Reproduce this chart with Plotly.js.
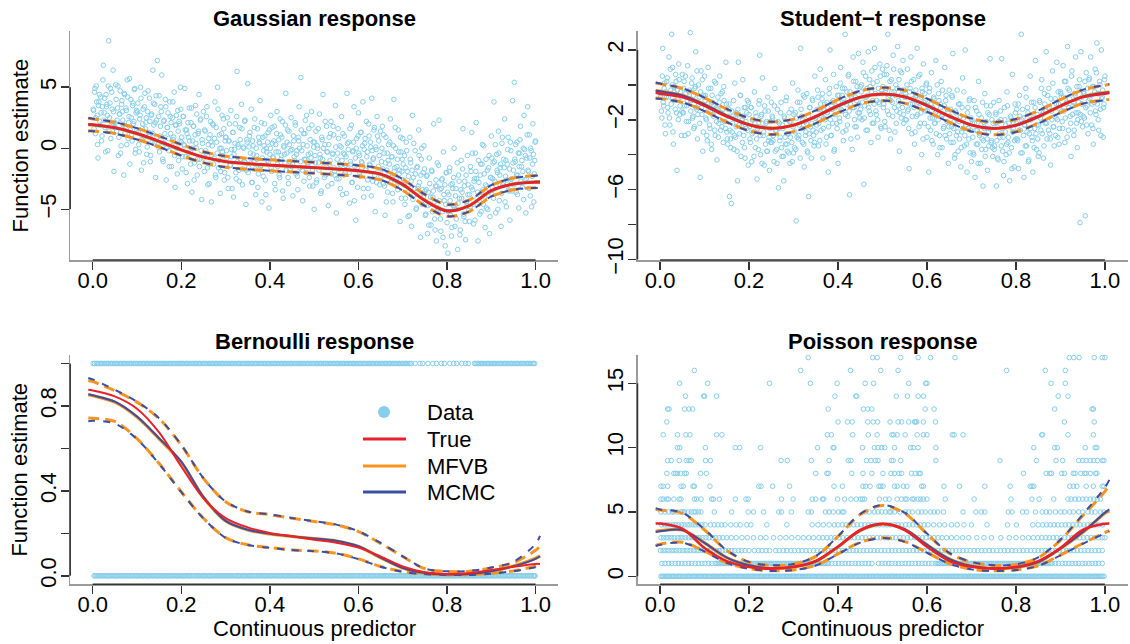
<!DOCTYPE html>
<html><head><meta charset="utf-8">
<script src="https://cdn.plot.ly/plotly-3.0.1.min.js"></script>
<style>html,body{margin:0;padding:0;background:#fff}#chart{width:1130px;height:644px}</style>
</head><body><div id="chart"></div>
<script>
// ---------- curve grid (continuous predictor) ----------
const curveX = [-0.01,0,0.05,0.1,0.15,0.2,0.25,0.3,0.35,0.4,0.45,0.5,0.55,0.6,0.65,0.7,0.75,0.8,0.85,0.9,0.95,1.0,1.01];

// ---------- Gaussian response ----------
const gaussTrue   = [1.97,1.95,1.7,1.22,0.58,-0.12,-0.72,-1.08,-1.25,-1.37,-1.48,-1.58,-1.7,-1.83,-2.1,-2.95,-4.3,-5.17,-4.7,-3.45,-2.95,-2.81,-2.81];
const gaussMfvb   = [1.93,1.9,1.66,1.18,0.55,-0.15,-0.74,-1.1,-1.28,-1.4,-1.5,-1.6,-1.71,-1.86,-2.14,-3.0,-4.25,-5.1,-4.72,-3.5,-2.92,-2.74,-2.73];
const gaussMfvbLo = [1.43,1.42,1.21,0.73,0.1,-0.6,-1.19,-1.55,-1.73,-1.85,-1.95,-2.05,-2.16,-2.31,-2.59,-3.46,-4.72,-5.58,-5.19,-3.96,-3.4,-3.24,-3.25];
const gaussMfvbHi = [2.45,2.4,2.12,1.63,1.0,0.3,-0.29,-0.65,-0.83,-0.95,-1.05,-1.15,-1.26,-1.41,-1.69,-2.54,-3.78,-4.62,-4.25,-3.04,-2.44,-2.24,-2.21];
const gaussMcmc   = [1.94,1.91,1.66,1.19,0.55,-0.15,-0.73,-1.1,-1.27,-1.4,-1.5,-1.6,-1.71,-1.86,-2.13,-3.0,-4.26,-5.1,-4.71,-3.49,-2.92,-2.75,-2.74];
const gaussMcmcLo = [1.4,1.4,1.2,0.72,0.1,-0.6,-1.18,-1.55,-1.72,-1.85,-1.95,-2.05,-2.16,-2.31,-2.58,-3.46,-4.73,-5.58,-5.18,-3.95,-3.39,-3.25,-3.27];
const gaussMcmcHi = [2.47,2.42,2.13,1.64,1.0,0.31,-0.28,-0.65,-0.82,-0.95,-1.05,-1.15,-1.26,-1.41,-1.68,-2.54,-3.79,-4.62,-4.24,-3.03,-2.44,-2.25,-2.22];

// ---------- Student-t response ----------
const studTrue   = [-0.45,-0.5,-0.7,-1.2,-1.82,-2.3,-2.5,-2.3,-1.8,-1.18,-0.7,-0.52,-0.7,-1.2,-1.8,-2.3,-2.5,-2.3,-1.8,-1.2,-0.7,-0.5,-0.46];
const studMfvb   = [-0.32,-0.36,-0.6,-1.12,-1.76,-2.27,-2.48,-2.32,-1.83,-1.22,-0.72,-0.53,-0.68,-1.16,-1.78,-2.3,-2.5,-2.33,-1.84,-1.22,-0.68,-0.44,-0.41];
const studMfvbHi = [0.11,0.06,-0.2,-0.74,-1.39,-1.91,-2.12,-1.96,-1.47,-0.85,-0.35,-0.16,-0.31,-0.79,-1.42,-1.94,-2.14,-1.97,-1.48,-0.85,-0.29,-0.02,0.02];
const studMfvbLo = [-0.75,-0.78,-1.0,-1.5,-2.13,-2.63,-2.84,-2.68,-2.19,-1.59,-1.09,-0.9,-1.05,-1.53,-2.14,-2.66,-2.86,-2.69,-2.2,-1.59,-1.07,-0.86,-0.84];
const studMcmc   = [-0.33,-0.37,-0.6,-1.12,-1.76,-2.27,-2.48,-2.31,-1.83,-1.22,-0.72,-0.54,-0.68,-1.16,-1.78,-2.3,-2.49,-2.33,-1.84,-1.22,-0.68,-0.45,-0.42];
const studMcmcHi = [0.14,0.08,-0.19,-0.73,-1.38,-1.9,-2.11,-1.95,-1.46,-0.84,-0.34,-0.15,-0.3,-0.78,-1.41,-1.93,-2.13,-1.96,-1.47,-0.84,-0.28,0.0,0.05];
const studMcmcLo = [-0.78,-0.8,-1.01,-1.51,-2.14,-2.64,-2.85,-2.69,-2.2,-1.6,-1.1,-0.91,-1.06,-1.54,-2.15,-2.67,-2.87,-2.7,-2.21,-1.6,-1.08,-0.88,-0.87];

// ---------- Bernoulli response ----------
const bernTrue   = [0.876,0.873,0.845,0.787,0.675,0.515,0.365,0.272,0.228,0.202,0.186,0.17,0.156,0.133,0.091,0.044,0.017,0.009,0.012,0.027,0.043,0.056,0.056];
const bernMfvb   = [0.853,0.848,0.818,0.748,0.645,0.535,0.37,0.258,0.216,0.197,0.185,0.175,0.164,0.138,0.085,0.037,0.013,0.006,0.009,0.022,0.046,0.083,0.094];
const bernMfvbHi = [0.92,0.915,0.872,0.818,0.74,0.615,0.459,0.349,0.302,0.288,0.271,0.256,0.24,0.208,0.153,0.091,0.033,0.02,0.022,0.037,0.062,0.12,0.14];
const bernMfvbLo = [0.743,0.742,0.727,0.646,0.529,0.396,0.271,0.18,0.146,0.133,0.122,0.117,0.106,0.08,0.044,0.02,0.009,0.005,0.005,0.011,0.023,0.045,0.05];
const bernMcmc   = [0.855,0.85,0.82,0.75,0.648,0.538,0.372,0.259,0.217,0.198,0.186,0.176,0.165,0.139,0.086,0.037,0.013,0.006,0.009,0.022,0.045,0.08,0.092];
const bernMcmcHi = [0.932,0.925,0.876,0.82,0.742,0.617,0.46,0.35,0.303,0.29,0.272,0.257,0.241,0.21,0.155,0.092,0.034,0.021,0.023,0.039,0.066,0.15,0.188];
const bernMcmcLo = [0.728,0.73,0.717,0.644,0.527,0.394,0.27,0.179,0.145,0.132,0.121,0.116,0.105,0.079,0.043,0.019,0.008,0.004,0.004,0.01,0.022,0.04,0.044];

// ---------- Poisson response ----------
const poisTrue   = [4.1,4.1,3.7,2.2,1.18,0.72,0.6,0.74,1.2,2.3,3.6,4.08,3.6,2.3,1.2,0.74,0.6,0.72,1.18,2.2,3.6,4.08,4.1];
const poisMfvb   = [3.5,3.55,3.6,2.6,1.45,0.85,0.62,0.72,1.15,2.3,3.55,4.05,3.65,2.45,1.35,0.8,0.62,0.7,1.1,2.15,3.4,4.9,5.1];
const poisMfvbHi = [5.2,5.15,4.9,3.6,2.0,1.1,0.85,0.95,1.55,3.1,4.8,5.5,4.9,3.3,1.8,1.1,0.85,0.92,1.45,2.8,4.7,6.6,7.2];
const poisMfvbLo = [2.4,2.5,2.65,1.95,1.05,0.6,0.43,0.5,0.85,1.75,2.65,3.0,2.7,1.85,1.0,0.55,0.43,0.5,0.82,1.65,2.55,3.4,3.55];
const poisMcmc   = [3.45,3.5,3.6,2.6,1.46,0.86,0.63,0.73,1.15,2.3,3.55,4.06,3.66,2.46,1.36,0.8,0.62,0.7,1.1,2.15,3.42,4.95,5.2];
const poisMcmcHi = [5.3,5.2,4.95,3.65,2.02,1.12,0.86,0.96,1.57,3.12,4.85,5.55,4.95,3.32,1.82,1.12,0.86,0.93,1.47,2.85,4.8,6.9,7.5];
const poisMcmcLo = [2.35,2.45,2.62,1.93,1.04,0.59,0.42,0.49,0.84,1.73,2.62,2.98,2.68,1.83,0.99,0.54,0.42,0.49,0.81,1.63,2.52,3.35,3.5];

// ---------- observed data (Gaussian & Student-t share the predictor) ----------
const predictor = [
0.002,0.004,0.006,0.008,0.010,0.012,0.014,0.016,0.018,0.020,0.022,0.024,0.026,0.028,0.030,0.032,0.034,0.036,0.038,0.040,0.042,0.044,0.046,0.048,0.050,
0.052,0.054,0.056,0.058,0.060,0.062,0.064,0.066,0.068,0.070,0.072,0.074,0.076,0.078,0.080,0.082,0.084,0.086,0.088,0.090,0.092,0.094,0.096,0.098,0.100,
0.102,0.104,0.106,0.108,0.110,0.112,0.114,0.116,0.118,0.120,0.122,0.124,0.126,0.128,0.130,0.132,0.134,0.136,0.138,0.140,0.142,0.144,0.146,0.148,0.150,
0.152,0.154,0.156,0.158,0.160,0.162,0.164,0.166,0.168,0.170,0.172,0.174,0.176,0.178,0.180,0.182,0.184,0.186,0.188,0.190,0.192,0.194,0.196,0.198,0.200,
0.202,0.204,0.206,0.208,0.210,0.212,0.214,0.216,0.218,0.220,0.222,0.224,0.226,0.228,0.230,0.232,0.234,0.236,0.238,0.240,0.242,0.244,0.246,0.248,0.250,
0.252,0.254,0.256,0.258,0.260,0.262,0.264,0.266,0.268,0.270,0.272,0.274,0.276,0.278,0.280,0.282,0.284,0.286,0.288,0.290,0.292,0.294,0.296,0.298,0.300,
0.302,0.304,0.306,0.308,0.310,0.312,0.314,0.316,0.318,0.320,0.322,0.324,0.326,0.328,0.330,0.332,0.334,0.336,0.338,0.340,0.342,0.344,0.346,0.348,0.350,
0.352,0.354,0.356,0.358,0.360,0.362,0.364,0.366,0.368,0.370,0.372,0.374,0.376,0.378,0.380,0.382,0.384,0.386,0.388,0.390,0.392,0.394,0.396,0.398,0.400,
0.402,0.404,0.406,0.408,0.410,0.412,0.414,0.416,0.418,0.420,0.422,0.424,0.426,0.428,0.430,0.432,0.434,0.436,0.438,0.440,0.442,0.444,0.446,0.448,0.450,
0.452,0.454,0.456,0.458,0.460,0.462,0.464,0.466,0.468,0.470,0.472,0.474,0.476,0.478,0.480,0.482,0.484,0.486,0.488,0.490,0.492,0.494,0.496,0.498,0.500,
0.502,0.504,0.506,0.508,0.510,0.512,0.514,0.516,0.518,0.520,0.522,0.524,0.526,0.528,0.530,0.532,0.534,0.536,0.538,0.540,0.542,0.544,0.546,0.548,0.550,
0.552,0.554,0.556,0.558,0.560,0.562,0.564,0.566,0.568,0.570,0.572,0.574,0.576,0.578,0.580,0.582,0.584,0.586,0.588,0.590,0.592,0.594,0.596,0.598,0.600,
0.602,0.604,0.606,0.608,0.610,0.612,0.614,0.616,0.618,0.620,0.622,0.624,0.626,0.628,0.630,0.632,0.634,0.636,0.638,0.640,0.642,0.644,0.646,0.648,0.650,
0.652,0.654,0.656,0.658,0.660,0.662,0.664,0.666,0.668,0.670,0.672,0.674,0.676,0.678,0.680,0.682,0.684,0.686,0.688,0.690,0.692,0.694,0.696,0.698,0.700,
0.702,0.704,0.706,0.708,0.710,0.712,0.714,0.716,0.718,0.720,0.722,0.724,0.726,0.728,0.730,0.732,0.734,0.736,0.738,0.740,0.742,0.744,0.746,0.748,0.750,
0.752,0.754,0.756,0.758,0.760,0.762,0.764,0.766,0.768,0.770,0.772,0.774,0.776,0.778,0.780,0.782,0.784,0.786,0.788,0.790,0.792,0.794,0.796,0.798,0.800,
0.802,0.804,0.806,0.808,0.810,0.812,0.814,0.816,0.818,0.820,0.822,0.824,0.826,0.828,0.830,0.832,0.834,0.836,0.838,0.840,0.842,0.844,0.846,0.848,0.850,
0.852,0.854,0.856,0.858,0.860,0.862,0.864,0.866,0.868,0.870,0.872,0.874,0.876,0.878,0.880,0.882,0.884,0.886,0.888,0.890,0.892,0.894,0.896,0.898,0.900,
0.902,0.904,0.906,0.908,0.910,0.912,0.914,0.916,0.918,0.920,0.922,0.924,0.926,0.928,0.930,0.932,0.934,0.936,0.938,0.940,0.942,0.944,0.946,0.948,0.950,
0.952,0.954,0.956,0.958,0.960,0.962,0.964,0.966,0.968,0.970,0.972,0.974,0.976,0.978,0.980,0.982,0.984,0.986,0.988,0.990,0.992,0.994,0.996,0.998,1.000,
0.001,0.003,0.005,0.007,0.009,0.011,0.013,0.015,0.017,0.019,0.021,0.023,0.025,0.027,0.029,0.031,0.033,0.035,0.037,0.039,0.041,0.043,0.045,0.047,0.049,
0.051,0.053,0.055,0.057,0.059,0.061,0.063,0.065,0.067,0.069,0.071,0.073,0.075,0.077,0.079,0.081,0.083,0.085,0.087,0.089,0.091,0.093,0.095,0.097,0.099,
0.101,0.103,0.105,0.107,0.109,0.111,0.113,0.115,0.117,0.119,0.121,0.123,0.125,0.127,0.129,0.131,0.133,0.135,0.137,0.139,0.141,0.143,0.145,0.147,0.149,
0.151,0.153,0.155,0.157,0.159,0.161,0.163,0.165,0.167,0.169,0.171,0.173,0.175,0.177,0.179,0.181,0.183,0.185,0.187,0.189,0.191,0.193,0.195,0.197,0.199,
0.201,0.203,0.205,0.207,0.209,0.211,0.213,0.215,0.217,0.219,0.221,0.223,0.225,0.227,0.229,0.231,0.233,0.235,0.237,0.239,0.241,0.243,0.245,0.247,0.249,
0.251,0.253,0.255,0.257,0.259,0.261,0.263,0.265,0.267,0.269,0.271,0.273,0.275,0.277,0.279,0.281,0.283,0.285,0.287,0.289,0.291,0.293,0.295,0.297,0.299,
0.301,0.303,0.305,0.307,0.309,0.311,0.313,0.315,0.317,0.319,0.321,0.323,0.325,0.327,0.329,0.331,0.333,0.335,0.337,0.339,0.341,0.343,0.345,0.347,0.349,
0.351,0.353,0.355,0.357,0.359,0.361,0.363,0.365,0.367,0.369,0.371,0.373,0.375,0.377,0.379,0.381,0.383,0.385,0.387,0.389,0.391,0.393,0.395,0.397,0.399,
0.401,0.403,0.405,0.407,0.409,0.411,0.413,0.415,0.417,0.419,0.421,0.423,0.425,0.427,0.429,0.431,0.433,0.435,0.437,0.439,0.441,0.443,0.445,0.447,0.449,
0.451,0.453,0.455,0.457,0.459,0.461,0.463,0.465,0.467,0.469,0.471,0.473,0.475,0.477,0.479,0.481,0.483,0.485,0.487,0.489,0.491,0.493,0.495,0.497,0.499,
0.501,0.503,0.505,0.507,0.509,0.511,0.513,0.515,0.517,0.519,0.521,0.523,0.525,0.527,0.529,0.531,0.533,0.535,0.537,0.539,0.541,0.543,0.545,0.547,0.549,
0.551,0.553,0.555,0.557,0.559,0.561,0.563,0.565,0.567,0.569,0.571,0.573,0.575,0.577,0.579,0.581,0.583,0.585,0.587,0.589,0.591,0.593,0.595,0.597,0.599,
0.601,0.603,0.605,0.607,0.609,0.611,0.613,0.615,0.617,0.619,0.621,0.623,0.625,0.627,0.629,0.631,0.633,0.635,0.637,0.639,0.641,0.643,0.645,0.647,0.649,
0.651,0.653,0.655,0.657,0.659,0.661,0.663,0.665,0.667,0.669,0.671,0.673,0.675,0.677,0.679,0.681,0.683,0.685,0.687,0.689,0.691,0.693,0.695,0.697,0.699,
0.701,0.703,0.705,0.707,0.709,0.711,0.713,0.715,0.717,0.719,0.721,0.723,0.725,0.727,0.729,0.731,0.733,0.735,0.737,0.739,0.741,0.743,0.745,0.747,0.749,
0.751,0.753,0.755,0.757,0.759,0.761,0.763,0.765,0.767,0.769,0.771,0.773,0.775,0.777,0.779,0.781,0.783,0.785,0.787,0.789,0.791,0.793,0.795,0.797,0.799,
0.801,0.803,0.805,0.807,0.809,0.811,0.813,0.815,0.817,0.819,0.821,0.823,0.825,0.827,0.829,0.831,0.833,0.835,0.837,0.839,0.841,0.843,0.845,0.847,0.849,
0.851,0.853,0.855,0.857,0.859,0.861,0.863,0.865,0.867,0.869,0.871,0.873,0.875,0.877,0.879,0.881,0.883,0.885,0.887,0.889,0.891,0.893,0.895,0.897,0.899,
0.901,0.903,0.905,0.907,0.909,0.911,0.913,0.915,0.917,0.919,0.921,0.923,0.925,0.927,0.929,0.931,0.933,0.935,0.937,0.939,0.941,0.943,0.945,0.947,0.949,
0.951,0.953,0.955,0.957,0.959,0.961,0.963,0.965,0.967,0.969,0.971,0.973,0.975,0.977,0.979,0.981,0.983,0.985,0.987,0.989,0.991,0.993,0.995,0.997,0.999];

const gaussResp = [
3.1,4.6,1.2,5.1,2.7,-0.8,3.8,2.2,4.2,0.6,3.4,6.8,2.9,1.7,4.4,3.6,-0.2,8.8,2.5,4.9,1.9,3.2,6.4,-1.9,2.1,
5.2,1.4,3.3,-0.6,2.8,4.7,0.2,3.9,2.3,-2.2,4.4,1.8,3.1,5.6,0.8,2.6,-1.3,4.0,1.1,3.5,2.0,4.8,-0.4,2.9,1.5,
3.7,0.3,2.4,5.0,-1.8,1.6,3.2,0.9,4.5,2.1,-0.5,3.0,1.3,4.1,-1.1,2.7,0.5,6.4,1.9,3.6,-2.4,2.3,7.2,0.1,4.3,
1.0,3.4,6.0,-0.9,2.2,0.4,4.0,-2.6,1.7,2.9,-0.2,3.8,1.2,-1.5,2.5,0.7,4.6,-3.2,1.9,0.0,3.1,-1.0,2.0,5.0,0.5,
-1.7,2.6,0.3,4.9,-0.7,1.5,-2.9,0.9,3.3,-0.3,2.1,-3.6,0.6,1.8,-1.2,3.5,0.0,-2.2,1.2,4.4,-0.9,2.4,-4.2,0.4,3.0,
-1.9,1.4,-0.4,3.4,-3.0,0.8,-1.3,2.2,-4.4,0.2,1.9,-0.8,3.8,-2.4,0.5,5.0,-1.6,1.1,-3.7,0.0,2.7,-0.6,1.6,-2.0,0.9,
-0.2,2.5,-3.3,0.6,-1.4,3.1,-0.7,1.3,-4.0,-0.1,2.0,-2.5,6.3,0.3,-1.8,1.7,-0.9,3.6,-3.0,0.1,-1.1,2.3,-4.6,0.7,5.3,
-1.6,1.0,-0.4,3.2,-2.8,0.2,-1.1,2.4,-3.8,-0.6,1.6,-2.1,0.5,3.9,-1.4,-4.4,0.9,-0.2,2.0,-2.6,0.0,-1.0,1.3,-4.9,-0.5,
2.7,-1.9,0.4,-0.8,1.8,-3.4,-0.3,3.0,-1.5,0.7,-2.4,1.1,-0.6,2.2,-4.1,0.1,-1.2,4.5,-0.4,1.5,-2.9,0.3,-1.7,2.5,-0.1,
-3.9,0.6,-1.0,1.9,-0.5,-2.3,0.9,3.4,-1.6,5.8,-0.2,-4.3,1.2,-0.9,2.3,-2.0,0.2,-1.3,1.6,-3.1,-0.4,3.0,-1.8,0.5,-5.0,
-0.6,1.4,-2.6,0.0,-1.2,2.8,-0.8,-3.5,0.7,4.4,-1.5,0.3,-2.2,1.8,-0.3,-4.7,0.9,-1.0,2.2,-2.9,-0.5,1.1,-1.9,3.5,-5.3,
-0.9,1.6,-2.5,0.2,-1.4,2.6,-3.8,-0.4,1.0,-2.0,-0.7,4.5,-1.7,0.5,-4.5,-1.1,1.9,-2.8,-0.2,3.4,-1.5,-5.9,0.8,-3.2,2.9,
-0.6,-2.3,1.3,-1.2,3.8,-4.0,0.4,-1.8,2.2,-0.3,-3.3,1.0,-1.4,0.1,4.1,-2.7,-0.8,1.7,-5.2,-0.1,2.6,-1.9,0.6,-3.0,1.4,
-1.1,1.8,-2.9,-0.4,-5.5,0.9,-1.8,-3.6,0.3,-1.3,2.4,-2.4,-0.7,-4.4,4.0,-1.6,0.0,-3.1,-0.9,1.5,-2.1,-6.0,-0.3,-1.9,0.8,
-2.6,-0.6,-4.1,0.5,-1.9,-5.6,-3.0,0.9,-1.2,-6.4,2.7,-2.4,-3.8,-0.2,-5.0,-1.6,-3.3,1.5,-2.8,-7.3,-0.9,-4.6,-2.0,0.2,-3.5,
-5.4,-2.3,-7.0,-3.6,-0.8,-4.6,-6.3,-1.9,-4.0,2.0,-5.8,-3.1,-7.6,-1.2,-4.9,2.3,-3.4,-6.8,-2.6,-5.2,-0.3,-4.3,-8.0,-2.0,-6.1,
-8.6,-3.8,-1.6,-5.5,-7.2,-2.9,-4.7,0.0,-6.4,-3.3,-5.0,-8.3,-2.2,-4.1,-6.7,-1.0,-3.6,1.6,-5.6,-2.7,-7.5,-4.4,-0.6,-3.0,-6.0,
-4.8,-1.9,1.3,-3.4,-6.2,-2.5,-0.4,2.1,-4.1,-7.6,-2.8,-5.4,-1.3,-3.6,0.3,-4.6,-2.1,-6.5,-0.9,-3.1,-5.0,-1.6,-7.0,-2.4,1.0,
-3.8,-1.2,3.8,-2.7,-5.3,-0.5,-2.0,1.4,-4.3,-1.6,-6.4,0.4,-3.0,-0.9,2.4,-2.3,-4.8,-1.3,0.9,-3.5,-5.9,-0.2,-2.5,3.9,-1.8,
5.4,-1.1,-3.6,0.5,-2.2,-4.9,-0.4,1.8,-1.5,-3.2,0.0,2.7,-2.6,-5.3,-0.8,3.4,-1.9,1.1,-3.9,-0.2,-2.3,2.0,-4.4,-1.0,0.6,
3.2,1.6,4.9,2.5,3.8,0.3,3.5,4.4,1.9,2.9,1.0,5.6,2.3,4.1,-0.3,3.4,2.7,5.1,1.4,3.7,0.8,4.6,2.1,3.0,1.7,
1.7,4.0,2.3,5.1,0.9,2.8,-0.4,3.6,3.0,1.9,4.5,1.2,3.3,0.3,4.2,2.1,5.7,1.5,2.5,0.6,3.7,2.2,4.9,-0.1,3.1,
3.0,1.3,-0.3,2.7,4.1,0.7,2.0,-1.2,3.4,1.6,2.5,0.1,4.7,1.0,2.2,-0.6,2.8,1.2,3.7,0.4,2.1,4.3,0.9,0.3,2.6,
-0.3,1.8,3.0,0.5,-1.1,2.3,1.2,3.4,0.0,1.7,0.8,-1.5,2.6,2.1,0.2,3.8,0.9,-0.6,1.9,2.7,-2.1,1.4,2.2,0.6,3.2,
0.9,-0.7,2.6,0.2,1.5,-2.0,1.2,2.1,-0.4,0.6,-1.3,3.3,0.0,1.8,-2.6,1.1,0.4,2.8,-0.9,1.4,-1.5,2.3,-0.2,0.7,-0.6,
-0.8,1.5,-0.2,2.6,-1.6,0.3,-2.9,1.1,0.5,-0.6,2.0,-1.3,0.8,-2.2,1.7,-0.4,3.2,-1.0,0.0,-1.9,1.2,-0.3,2.4,-2.6,0.6,
0.9,-0.8,-2.4,0.6,2.0,-1.4,-0.1,-3.3,1.3,-0.5,0.4,-2.0,2.6,-1.1,0.1,-2.7,0.7,-0.9,1.6,-1.7,0.0,2.2,-1.2,-1.8,0.5,
-2.0,0.1,1.3,-1.2,-2.8,0.6,-0.5,1.7,-1.7,0.0,-0.9,-3.2,0.9,0.4,-1.5,2.1,-0.8,-2.3,0.2,1.0,-3.8,-0.3,0.5,-1.1,1.5,
0.0,-1.6,1.7,-0.7,0.6,-2.9,0.3,1.2,-1.3,-0.3,-2.2,2.4,-0.9,0.9,-3.5,0.2,-0.5,1.9,-1.8,0.5,-2.4,1.4,-1.1,-0.2,-1.5,
-1.3,1.0,-0.7,2.1,-2.1,-0.2,-3.4,0.6,0.0,-1.1,1.5,-1.8,0.3,-2.7,1.2,-0.9,2.7,-1.5,-0.5,-2.4,0.7,-0.8,1.9,-3.1,0.1,
0.5,-1.2,-2.8,0.2,1.6,-1.8,-0.5,-3.7,0.9,-0.9,0.0,-2.4,2.2,-1.5,-0.3,-3.1,0.3,-1.3,1.2,-2.1,-0.4,1.8,-1.6,-2.2,0.1,
-2.5,-0.4,0.8,-1.7,-3.3,0.1,-1.0,1.2,-2.2,-0.5,-1.4,-3.7,0.4,-0.1,-2.0,1.6,-1.3,-2.8,-0.3,0.5,-4.3,-0.8,0.0,-1.6,1.0,
-0.4,-2.0,1.3,-1.1,0.2,-3.3,-0.1,0.8,-1.7,-0.7,-2.6,2.0,-1.3,0.5,-3.9,-0.2,-0.9,1.5,-2.2,0.1,-2.8,1.0,-1.5,-0.6,-1.9,
-2.3,0.0,-1.7,1.1,-3.1,-1.2,-4.4,-0.4,-1.0,-2.1,0.5,-2.8,-0.7,-3.7,0.2,-1.9,1.7,-2.5,-1.5,-3.4,-0.3,-1.8,0.9,-4.1,-0.9,
-1.3,-3.0,-4.6,-1.6,-0.2,-3.6,-2.3,-5.5,-0.9,-2.7,-1.8,-4.2,0.4,-3.3,-2.1,-4.9,-1.5,-3.1,-0.6,-3.9,-2.2,0.0,-3.4,-4.0,-1.7,
-5.5,-3.4,-2.2,-4.7,-6.3,-2.9,-4.0,-1.8,-5.2,-3.5,-4.4,-6.7,-2.6,-3.1,-5.0,-1.4,-4.3,-5.8,-3.3,-2.5,-7.3,-3.8,-3.0,-4.6,-2.0,
-3.6,-5.2,-1.9,-4.3,-3.0,-6.5,-3.3,-2.4,-4.9,-3.9,-5.8,-1.2,-4.5,-2.7,-7.1,-3.4,-4.1,-1.7,-5.4,-3.1,-6.0,-2.2,-4.7,-3.8,-5.1,
-3.8,-1.5,-3.2,-0.4,-4.6,-2.7,-5.9,-1.9,-2.5,-3.6,-1.0,-4.3,-2.2,-5.2,-1.3,-3.4,0.2,-4.0,-3.0,-4.9,-1.8,-3.3,-0.6,-5.6,-2.4,
-0.8,-2.5,-4.1,-1.1,0.3,-3.1,-1.8,-5.0,-0.4,-2.2,-1.3,-3.7,0.9,-2.8,-1.6,-4.4,-1.0,-2.6,-0.1,-3.4,-1.7,0.5,-2.9,-3.5,-1.2,
-3.0,-0.9,0.3,-2.2,-3.8,-0.4,-1.5,0.7,-2.7,-1.0,-1.9,-4.2,-0.1,-0.6,-2.5,1.1,-1.8,-3.3,-0.8,0.0,-4.8,-1.3,-0.5,-2.1,0.5];

const studResp = [
-0.5,-1.9,2.1,-1.2,0.1,-2.8,-0.7,0.4,-1.6,1.6,-2.3,-0.3,2.9,1.0,-3.4,-0.1,-1.4,0.2,-4.9,-0.8,1.2,-1.7,-0.4,-2.9,0.6,
-1.6,0.2,-2.9,-0.5,-1.2,1.1,-2.1,-0.3,3.0,-0.9,0.4,-1.8,-2.5,-0.2,1.9,-1.4,-3.1,0.0,-0.7,-5.3,0.8,-1.7,-3.8,-0.6,0.5,
-0.6,-2.0,-3.2,1.0,-1.4,-2.5,-0.2,-3.7,-1.0,-1.8,0.2,-2.9,-1.3,-4.3,-0.7,-2.2,0.5,-2.6,-1.6,-0.4,-3.3,-0.9,-2.1,1.3,-2.7,
-3.4,-1.4,-6.4,-3.1,-6.8,-2.7,-1.8,-3.7,0.1,-3.0,-1.6,-5.5,1.3,-2.3,-0.6,-4.1,-2.0,0.3,-2.9,-3.6,-1.3,-2.5,-0.9,-4.6,-1.7,
-3.1,-1.3,-4.4,-2.0,-2.7,-0.4,-3.6,-1.8,-5.4,-2.4,-1.1,1.7,-4.0,-1.7,0.4,-2.9,-4.6,-1.5,-2.2,-3.8,-0.7,-3.2,-4.9,-2.1,-1.0,
-1.8,-3.2,-4.4,-0.2,-2.6,-3.7,-1.4,-5.9,-2.2,-3.0,-1.0,-4.1,-2.5,-5.5,-1.9,-3.4,-0.7,-3.8,-2.8,-1.6,-4.5,-2.1,-3.3,0.1,-3.9,
-3.6,-1.6,-7.8,-3.0,-0.3,-2.9,-1.0,2.1,-1.8,-3.3,-0.6,-4.7,-2.1,-2.7,-0.5,-3.9,-6.4,-1.3,-2.4,-4.2,-0.8,-2.6,-3.5,0.5,-1.9,
-2.3,-0.3,-3.5,-1.4,0.9,-2.6,-0.8,-4.2,-1.9,-1.1,0.3,-3.0,-1.6,-5.0,-0.5,2.0,-2.9,-1.0,-2.2,0.6,-3.7,-1.3,-0.1,-2.5,-4.5,
-0.6,-2.1,1.0,-1.5,-0.2,-3.2,-1.0,2.9,-2.6,-0.4,-1.8,0.6,-6.3,-1.1,-0.7,-3.7,1.6,-1.3,-2.4,0.2,-0.9,-3.0,1.8,-1.6,-0.1,
-0.4,-2.0,1.3,-5.7,-1.2,0.5,-0.7,-2.6,1.9,-1.5,-0.1,-3.3,0.8,-0.9,-2.2,2.1,-0.5,-1.7,0.2,-3.0,-1.0,1.2,-2.4,-0.3,0.9,
-1.3,0.6,-2.4,-0.2,1.1,2.9,-1.7,-0.6,-3.1,0.3,-1.0,1.7,-0.4,-2.7,0.0,-1.5,2.2,-0.9,-3.8,0.8,-1.9,-0.3,1.4,-2.2,-0.7,
-0.5,-2.0,0.9,-1.4,-4.8,-0.2,1.6,-2.8,-1.1,0.3,-3.4,-0.7,-1.8,2.1,-1.0,-2.4,0.6,-1.6,-4.0,-0.4,1.2,-2.2,-0.9,0.0,-3.0,
-1.2,-5.0,-0.2,-2.6,0.7,-1.9,-3.4,-0.8,-2.2,1.4,-1.5,-4.0,-0.5,-2.9,-1.1,0.2,-3.6,-1.7,-2.4,1.0,-0.9,-3.1,-1.4,-4.5,-0.3,
-1.8,-3.3,-0.6,1.8,-2.5,-4.2,-1.5,-2.9,-0.3,-3.8,-2.1,-1.1,-4.7,-2.7,0.4,-1.9,-3.5,2.0,-2.3,-5.0,-1.3,-3.1,-0.8,-2.6,-4.4,
-2.2,-3.9,-0.9,-5.3,-2.6,-1.5,-3.4,0.2,-2.9,-4.5,-1.9,-3.1,-5.8,-2.4,-0.5,-3.7,-1.2,-4.9,-2.7,-1.7,1.5,-3.3,-2.0,-4.1,-1.0,
-3.5,-1.6,-5.8,-2.4,-4.3,-0.9,-3.0,-2.0,1.5,-3.8,-5.2,-1.3,-2.7,-4.0,-0.4,-3.3,-2.2,-5.5,-1.8,-3.6,0.6,-2.5,-4.7,-1.1,-3.1,
-1.4,-3.2,-4.8,-0.6,-2.6,2.9,-3.9,-1.9,-5.3,-2.3,-0.2,-3.5,-1.3,-4.4,-2.8,0.5,-2.0,-3.0,-5.0,-1.0,-2.5,1.4,-3.7,-1.7,-4.1,
-3.9,-1.0,-2.6,0.3,-1.7,-4.2,-0.5,-2.2,1.9,-3.1,-1.3,-0.2,-2.8,-4.6,-1.5,0.8,-2.4,-3.5,-0.8,-1.9,1.3,-3.0,-1.1,-2.5,-0.4,
-0.7,-2.1,1.1,-1.5,-3.3,0.2,-1.0,2.2,-2.6,-0.3,-1.8,-4.1,0.8,-1.2,-2.9,-0.5,1.6,-2.2,-3.6,-1.6,-0.1,-7.9,1.9,-1.1,-2.4,
-0.4,-1.9,-7.5,0.7,-1.2,-2.8,0.3,-0.8,1.6,-2.3,-0.1,-3.4,-1.0,0.9,-1.7,2.4,-0.5,-2.6,0.2,-1.4,2.0,-0.7,-3.0,-1.1,0.5,
-0.6,-1.5,0.5,-1.0,-0.2,-2.3,-0.4,0.2,-1.3,-0.7,-1.9,0.9,-1.1,0.0,-2.7,-0.4,-0.9,0.6,-1.6,-0.3,-2.0,0.3,-1.2,-0.7,-1.5,
-1.6,-0.2,-1.2,0.5,-2.1,-0.9,-2.8,-0.4,-0.8,-1.5,0.1,-1.9,-0.6,-2.4,-0.1,-1.3,0.8,-1.7,-1.1,-2.2,-0.4,-1.3,0.3,-2.7,-0.7,
-0.9,-1.9,-2.9,-1.1,-0.2,-2.3,-1.5,-3.4,-0.6,-1.7,-1.2,-2.6,0.1,-2.1,-1.4,-3.0,-1.0,-2.0,-0.5,-2.4,-1.4,-0.1,-2.1,-2.5,-1.1,
-3.1,-1.8,-1.1,-2.6,-3.6,-1.5,-2.2,-0.9,-2.9,-1.9,-2.4,-3.8,-1.4,-1.7,-2.8,-0.6,-2.4,-3.3,-1.8,-1.3,-4.2,-2.1,-1.6,-2.6,-1.0,
-2.4,-3.3,-1.3,-2.8,-2.0,-4.1,-2.2,-1.6,-3.1,-2.5,-3.7,-0.9,-2.9,-1.8,-4.5,-2.2,-2.7,-1.2,-3.4,-2.1,-3.8,-1.5,-3.0,-2.5,-3.3,
-3.3,-1.9,-2.9,-1.2,-3.8,-2.6,-4.5,-2.1,-2.5,-3.2,-1.6,-3.6,-2.3,-4.1,-1.8,-3.0,-0.9,-3.4,-2.8,-3.9,-2.1,-3.0,-1.4,-4.4,-2.4,
-1.7,-2.7,-3.7,-1.9,-1.0,-3.1,-2.3,-4.2,-1.4,-2.5,-2.0,-3.4,-0.7,-2.9,-2.2,-3.8,-1.8,-2.8,-1.3,-3.2,-2.2,-0.9,-2.9,-3.3,-1.9,
-2.7,-1.4,-0.7,-2.2,-3.2,-1.1,-1.8,-0.5,-2.5,-1.5,-2.0,-3.4,-1.0,-1.3,-2.4,-0.2,-2.0,-2.9,-1.4,-0.9,-3.8,-1.7,-1.2,-2.2,-0.6,
-1.0,-1.9,0.1,-1.4,-0.6,-2.7,-0.8,-0.2,-1.7,-1.1,-2.3,0.5,-1.5,-0.4,-3.1,-0.8,-1.3,0.2,-2.0,-0.7,-2.4,-0.1,-1.6,-1.1,-1.9,
-1.4,0.0,-1.0,0.7,-1.9,-0.7,-2.6,-0.2,-0.6,-1.3,0.3,-1.7,-0.4,-2.2,0.1,-1.1,1.0,-1.5,-0.9,-2.0,-0.2,-1.1,0.5,-2.5,-0.5,
-0.1,-1.1,-2.1,-0.3,0.6,-1.5,-0.7,-2.6,0.2,-0.9,-0.4,-1.8,0.9,-1.3,-0.6,-2.2,-0.2,-1.2,0.3,-1.6,-0.6,0.7,-1.3,-1.7,-0.3,
-2.0,-0.7,0.0,-1.5,-2.5,-0.4,-1.1,0.2,-1.8,-0.8,-1.3,-2.7,-0.3,-0.6,-1.7,0.5,-1.3,-2.2,-0.7,-0.2,-3.1,-1.0,-0.5,-1.5,0.1,
-1.5,-2.4,-0.4,-1.9,-1.1,-3.2,-1.3,-0.7,-2.2,-1.6,-2.8,0.0,-2.0,-0.9,-3.6,-1.3,-1.8,-0.3,-2.5,-1.2,-2.9,-0.6,-2.1,-1.6,-2.4,
-2.8,-1.4,-2.4,-0.7,-3.3,-2.1,-4.0,-1.6,-2.0,-2.7,-1.1,-3.1,-1.8,-3.6,-1.3,-2.5,-0.4,-2.9,-2.3,-3.4,-1.6,-2.5,-0.9,-3.9,-1.9,
-2.0,-3.0,-4.0,-2.2,-1.3,-3.4,-2.6,-4.5,-1.7,-2.8,-2.3,-3.7,-1.0,-3.2,-2.5,-4.1,-2.1,-3.1,-1.6,-3.5,-2.5,-1.2,-3.2,-3.6,-2.2,
-3.7,-2.4,-1.7,-3.2,-4.2,-2.1,-2.8,-1.5,-3.5,-2.5,-3.0,-4.4,-2.0,-2.3,-3.4,-1.2,-3.0,-3.9,-2.4,-1.9,-4.8,-2.7,-2.2,-3.2,-1.6,
-2.2,-3.1,-1.1,-2.6,-1.8,-3.9,-2.0,-1.4,-2.9,-2.3,-3.5,-0.7,-2.7,-1.6,-4.3,-2.0,-2.5,-1.0,-3.2,-1.9,-3.6,-1.3,-2.8,-2.3,-3.1,
-2.3,-0.9,-1.9,-0.2,-2.8,-1.6,-3.5,-1.1,-1.5,-2.2,-0.6,-2.6,-1.3,-3.1,-0.8,-2.0,0.1,-2.4,-1.8,-2.9,-1.1,-2.0,-0.4,-3.4,-1.4,
-0.5,-1.5,-2.5,-0.7,0.2,-1.9,-1.1,-3.0,-0.2,-1.3,-0.8,-2.2,0.5,-1.7,-1.0,-2.6,-0.6,-1.6,-0.1,-2.0,-1.0,0.3,-1.7,-2.1,-0.7,
-1.8,-0.5,0.2,-1.3,-2.3,-0.2,-0.9,0.4,-1.6,-0.6,-1.1,-2.5,-0.1,-0.4,-1.5,0.7,-1.1,-2.0,-0.5,0.0,-2.9,-0.8,-0.3,-1.3,0.3];

// Bernoulli observations: predictor values with response 1 and with response 0
const bernOnesX = [0.001,0.008,0.014,0.02,0.027,0.033,0.04,0.046,0.053,0.06,0.066,0.072,0.079,0.085,0.092,0.098,0.105,0.112,0.118,0.124,0.131,0.137,0.144,0.151,0.157,0.163,0.17,0.176,0.183,0.19,0.196,0.202,0.209,0.215,0.222,0.229,0.235,0.241,0.248,0.254,0.261,0.268,0.274,0.28,0.287,0.293,0.3,0.307,0.313,0.319,0.326,0.332,0.339,0.346,0.352,0.358,0.365,0.371,0.378,0.385,0.391,0.397,0.404,0.41,0.417,0.424,0.43,0.436,0.443,0.449,0.456,0.463,0.469,0.475,0.482,0.488,0.495,0.502,0.508,0.514,0.521,0.527,0.534,0.541,0.547,0.553,0.56,0.566,0.573,0.58,0.586,0.592,0.599,0.605,0.612,0.619,0.625,0.631,0.638,0.644,0.651,0.658,0.664,0.67,0.677,0.683,0.69,0.697,0.703,0.709,0.716,0.728,0.739,0.745,0.757,0.768,0.776,0.787,0.794,0.806,0.815,0.822,0.833,0.842,0.848,0.862,0.868,0.875,0.881,0.888,0.894,0.901,0.907,0.914,0.92,0.927,0.933,0.94,0.946,0.953,0.959,0.966,0.972,0.979,0.985,0.992,0.998,
0.004,0.011,0.017,0.023,0.03,0.036,0.043,0.05,0.056,0.063,0.069,0.075,0.082,0.088,0.095,0.101,0.108,0.115,0.121,0.127,0.134,0.14,0.147,0.154,0.16,0.166,0.173,0.179,0.186,0.193,0.199,0.205,0.212,0.218,0.225,0.232,0.238,0.244,0.251,0.257,0.264,0.271,0.277,0.283,0.29,0.296,0.303,0.31,0.316,0.322,0.329,0.335,0.342,0.349,0.355,0.361,0.368,0.374,0.381,0.388,0.394,0.4,0.407,0.413,0.42,0.427,0.433,0.439,0.446,0.452,0.459,0.466,0.472,0.478,0.485,0.491,0.498,0.505,0.511,0.517,0.524,0.53,0.537,0.544,0.55,0.556,0.563,0.569,0.576,0.583,0.589,0.595,0.602,0.608,0.615,0.622,0.628,0.634,0.641,0.647,0.654,0.661,0.667,0.673,0.68,0.686,0.693,0.7,0.706,0.712,0.719,0.865,0.871,0.878,0.884,0.891,0.897,0.904,0.91,0.917,0.923,0.93,0.936,0.943,0.949,0.956,0.962,0.969,0.975,0.982,0.988,0.995];
const bernZerosX = [0.003,0.009,0.016,0.022,0.029,0.035,0.042,0.049,0.055,0.062,0.068,0.075,0.081,0.088,0.095,0.101,0.108,0.114,0.121,0.127,0.134,0.141,0.147,0.154,0.16,0.167,0.173,0.18,0.187,0.193,0.2,0.206,0.213,0.219,0.226,0.233,0.239,0.246,0.252,0.259,0.265,0.272,0.279,0.285,0.292,0.298,0.305,0.311,0.318,0.325,0.331,0.338,0.344,0.351,0.357,0.364,0.371,0.377,0.384,0.39,0.397,0.403,0.41,0.417,0.423,0.43,0.436,0.443,0.449,0.456,0.463,0.469,0.476,0.482,0.489,0.495,0.502,0.509,0.515,0.522,0.528,0.535,0.541,0.548,0.555,0.561,0.568,0.574,0.581,0.587,0.594,0.601,0.607,0.614,0.62,0.627,0.633,0.64,0.647,0.653,0.66,0.666,0.673,0.679,0.686,0.693,0.699,0.706,0.712,0.719,0.725,0.732,0.739,0.745,0.752,0.758,0.765,0.771,0.778,0.785,0.791,0.798,0.804,0.811,0.817,0.824,0.831,0.837,0.844,0.85,0.857,0.863,0.87,0.877,0.883,0.89,0.896,0.903,0.909,0.916,0.923,0.929,0.936,0.942,0.949,0.955,0.962,0.969,0.975,0.982,0.988,0.995,0.999,
0.006,0.012,0.019,0.025,0.032,0.038,0.045,0.052,0.058,0.065,0.071,0.078,0.084,0.091,0.098,0.104,0.111,0.117,0.124,0.13,0.137,0.144,0.15,0.157,0.163,0.17,0.176,0.183,0.19,0.196,0.203,0.209,0.216,0.222,0.229,0.236,0.242,0.249,0.255,0.262,0.268,0.275,0.282,0.288,0.295,0.301,0.308,0.314,0.321,0.328,0.334,0.341,0.347,0.354,0.36,0.367,0.374,0.38,0.387,0.393,0.4,0.406,0.413,0.42,0.426,0.433,0.439,0.446,0.452,0.459,0.466,0.472,0.479,0.485,0.492,0.498,0.505,0.512,0.518,0.525,0.531,0.538,0.544,0.551,0.558,0.564,0.571,0.577,0.584,0.59,0.597,0.604,0.61,0.617,0.623,0.63,0.636,0.643,0.65,0.656,0.663,0.669,0.676,0.682,0.689,0.696,0.702,0.709,0.715,0.722,0.728,0.735,0.742,0.748,0.755,0.761,0.768,0.774,0.781,0.788,0.794,0.801,0.807,0.814,0.82,0.827,0.834,0.84,0.847,0.853,0.86,0.866,0.873,0.88,0.886,0.893,0.899,0.906,0.912,0.919,0.926,0.932,0.939,0.945,0.952,0.958,0.965,0.972,0.978,0.985,0.991,0.997];

// Poisson observations: predictor values grouped by observed count (index = count)
const poisByCount = [
[0.002,0.008,0.015,0.021,0.028,0.034,0.041,0.047,0.054,0.061,0.067,0.074,0.08,0.087,0.093,0.1,0.106,0.113,0.12,0.126,0.133,0.139,0.146,0.152,0.159,0.166,0.172,0.179,0.185,0.192,0.198,0.205,0.211,0.218,0.225,0.231,0.238,0.244,0.251,0.257,0.264,0.27,0.277,0.284,0.29,0.297,0.303,0.31,0.316,0.323,0.33,0.336,0.343,0.349,0.356,0.362,0.369,0.375,0.382,0.389,0.395,0.402,0.408,0.415,0.421,0.428,0.434,0.441,0.448,0.454,0.461,0.467,0.474,0.48,0.487,0.493,0.5,0.507,0.513,0.52,0.526,0.533,0.539,0.546,0.552,0.559,0.566,0.572,0.579,0.585,0.592,0.598,0.605,0.611,0.618,0.625,0.631,0.638,0.644,0.651,0.657,0.664,0.67,0.677,0.684,0.69,0.697,0.703,0.71,0.716,0.723,0.729,0.736,0.743,0.749,0.756,0.762,0.769,0.775,0.782,0.788,0.795,0.802,0.808,0.815,0.821,0.828,0.834,0.841,0.847,0.854,0.861,0.867,0.874,0.88,0.887,0.893,0.9,0.906,0.913,0.92,0.926,0.933,0.939,0.946,0.952,0.959,0.965,0.972,0.979,0.985,0.992,0.998,
 0.005,0.012,0.018,0.025,0.031,0.038,0.044,0.051,0.058,0.064,0.071,0.077,0.084,0.09,0.097,0.103,0.11,0.117,0.123,0.13,0.136,0.143,0.149,0.156,0.163,0.169,0.176,0.182,0.189,0.195,0.202,0.208,0.215,0.222,0.228,0.235,0.241,0.248,0.254,0.261,0.267,0.274,0.281,0.287,0.294,0.3,0.307,0.313,0.32,0.327,0.333,0.34,0.346,0.353,0.359,0.366,0.372,0.379,0.386,0.392,0.399,0.405,0.412,0.418,0.425,0.431,0.438,0.445,0.451,0.458,0.464,0.471,0.477,0.484,0.49,0.497,0.504,0.51,0.517,0.523,0.53,0.536,0.543,0.549,0.556,0.563,0.569,0.576,0.582,0.589,0.595,0.602,0.608,0.615,0.622,0.628,0.635,0.641,0.648,0.654,0.661,0.667,0.674,0.681,0.687,0.694,0.7,0.707,0.713,0.72,0.726,0.733,0.74,0.746,0.753,0.759,0.766,0.772,0.779,0.785,0.792,0.799,0.805,0.812,0.818,0.825,0.831,0.838,0.844,0.851,0.858,0.864,0.871,0.877,0.884,0.89,0.897,0.903,0.91,0.917,0.923,0.93,0.936,0.943,0.949,0.956,0.962,0.969,0.976,0.982,0.989,0.995],
[0.004,0.011,0.019,0.026,0.034,0.041,0.049,0.056,0.064,0.071,0.079,0.086,0.094,0.101,0.109,0.116,0.124,0.131,0.139,0.146,0.154,0.161,0.169,0.176,0.184,0.191,0.199,0.206,0.214,0.221,0.229,0.236,0.244,0.251,0.259,0.266,0.274,0.281,0.289,0.296,0.304,0.311,0.319,0.326,0.334,0.341,0.349,0.356,0.364,0.371,0.379,0.386,0.394,0.401,0.409,0.416,0.424,0.431,0.439,0.446,0.454,0.461,0.469,0.476,0.491,0.499,0.506,0.514,0.521,0.529,0.536,0.544,0.551,0.559,0.566,0.574,0.581,0.589,0.596,0.604,0.611,0.619,0.626,0.634,0.641,0.649,0.656,0.664,0.671,0.679,0.686,0.694,0.701,0.709,0.716,0.724,0.731,0.739,0.746,0.754,0.761,0.769,0.776,0.784,0.791,0.799,0.806,0.814,0.821,0.829,0.836,0.844,0.851,0.859,0.866,0.874,0.881,0.889,0.896,0.904,0.911,0.919,0.926,0.934,0.941,0.949,0.956,0.964,0.971,0.979,0.986,0.994,
 0.128,0.135,0.143,0.15,0.158,0.165,0.173,0.18,0.188,0.195,0.203,0.21,0.218,0.225,0.233,0.24,0.248,0.255,0.263,0.27,0.278,0.285,0.293,0.3,0.308,0.315,0.323,0.33,0.338,0.345,0.353,0.36,0.368,0.375,0.623,0.63,0.638,0.645,0.653,0.66,0.668,0.675,0.683,0.69,0.698,0.705,0.713,0.72,0.728,0.735,0.743,0.75,0.758,0.765,0.773,0.78,0.788,0.795,0.803,0.81,0.818,0.825,0.833,0.84,0.848,0.855,0.863,0.87,0.878],
[0.001,0.007,0.013,0.019,0.025,0.031,0.037,0.043,0.05,0.056,0.062,0.068,0.075,0.081,0.087,0.094,0.1,0.107,0.113,0.12,0.127,0.133,0.14,0.147,0.154,0.161,0.168,0.176,0.183,0.191,0.2,0.212,0.221,0.229,0.238,0.246,0.26,0.268,0.277,0.285,0.294,0.302,0.311,0.319,0.328,0.336,0.345,0.353,0.362,0.37,0.378,0.386,0.394,0.402,0.41,0.418,0.426,0.434,0.441,0.449,0.457,0.465,0.473,0.481,0.489,0.497,0.505,0.513,0.521,0.529,0.537,0.545,0.553,0.561,0.569,0.577,0.585,0.593,0.601,0.609,0.617,0.625,0.633,0.641,0.649,0.657,0.665,0.673,0.681,0.689,0.697,0.706,0.714,0.723,0.731,0.74,0.748,0.757,0.765,0.774,0.782,0.791,0.799,0.808,0.816,0.825,0.833,0.842,0.85,0.858,0.866,0.874,0.882,0.89,0.898,0.906,0.914,0.922,0.93,0.938,0.946,0.954,0.962,0.97,0.978,0.986,0.994],
[0.002,0.008,0.014,0.02,0.026,0.032,0.039,0.045,0.051,0.057,0.064,0.07,0.076,0.083,0.089,0.096,0.103,0.11,0.118,0.125,0.133,0.141,0.15,0.16,0.171,0.184,0.196,0.21,0.226,0.238,0.255,0.27,0.283,0.296,0.31,0.322,0.334,0.345,0.357,0.366,0.375,0.384,0.393,0.402,0.411,0.42,0.428,0.437,0.445,0.454,0.462,0.471,0.479,0.488,0.496,0.505,0.513,0.522,0.53,0.539,0.547,0.556,0.564,0.573,0.581,0.59,0.598,0.607,0.616,0.625,0.634,0.644,0.655,0.667,0.68,0.694,0.712,0.728,0.745,0.766,0.785,0.8,0.815,0.828,0.839,0.849,0.858,0.867,0.875,0.884,0.892,0.901,0.909,0.918,0.926,0.935,0.943,0.952,0.96,0.969,0.977,0.986,0.994,1.0],
[0.003,0.01,0.016,0.022,0.029,0.035,0.041,0.048,0.054,0.061,0.067,0.074,0.08,0.087,0.094,0.101,0.113,0.122,0.13,0.138,0.146,0.159,0.171,0.18,0.195,0.204,0.24,0.285,0.342,0.355,0.367,0.38,0.392,0.4,0.41,0.418,0.426,0.435,0.443,0.452,0.46,0.468,0.476,0.485,0.493,0.502,0.51,0.518,0.527,0.535,0.543,0.552,0.56,0.568,0.577,0.585,0.594,0.602,0.615,0.628,0.64,0.655,0.668,0.683,0.7,0.735,0.781,0.801,0.838,0.85,0.86,0.869,0.877,0.886,0.894,0.903,0.911,0.919,0.928,0.936,0.944,0.953,0.961,0.969,0.978,0.986,0.995],
[0.002,0.011,0.019,0.027,0.031,0.039,0.047,0.051,0.055,0.063,0.07,0.076,0.08,0.086,0.092,0.122,0.161,0.198,0.21,0.233,0.267,0.273,0.295,0.333,0.34,0.372,0.38,0.389,0.401,0.409,0.413,0.462,0.47,0.482,0.49,0.498,0.507,0.515,0.519,0.527,0.539,0.551,0.559,0.567,0.58,0.588,0.596,0.608,0.616,0.624,0.637,0.681,0.71,0.722,0.73,0.783,0.791,0.815,0.824,0.844,0.859,0.868,0.876,0.889,0.901,0.909,0.921,0.929,0.941,0.95,0.962,0.97,0.978,0.99,0.998],
[0.002,0.007,0.015,0.019,0.031,0.043,0.047,0.077,0.082,0.092,0.116,0.12,0.133,0.169,0.193,0.198,0.273,0.299,0.342,0.35,0.365,0.368,0.399,0.415,0.429,0.441,0.45,0.455,0.46,0.493,0.507,0.515,0.533,0.543,0.551,0.555,0.567,0.571,0.58,0.586,0.592,0.6,0.641,0.706,0.789,0.836,0.852,0.885,0.917,0.924,0.933,0.941,0.95,0.958,0.967,0.975,0.983,0.99],
[0.002,0.007,0.017,0.047,0.052,0.074,0.077,0.112,0.222,0.227,0.253,0.291,0.391,0.41,0.456,0.462,0.472,0.492,0.496,0.501,0.527,0.533,0.547,0.555,0.588,0.592,0.638,0.673,0.73,0.787,0.832,0.836,0.84,0.921,0.929,0.937,0.958,0.974,0.994,0.998],
[0.015,0.031,0.035,0.039,0.046,0.055,0.059,0.091,0.104,0.35,0.375,0.378,0.431,0.456,0.476,0.501,0.519,0.527,0.537,0.543,0.565,0.574,0.582,0.585,0.817,0.868,0.876,0.88,0.903,0.909,0.929,0.933,0.946,0.954,0.958,0.967,0.979,0.982],
[0.017,0.025,0.043,0.059,0.065,0.07,0.102,0.113,0.272,0.286,0.34,0.38,0.423,0.429,0.464,0.474,0.484,0.49,0.52,0.524,0.541,0.62,0.764,0.846,0.89,0.905,0.941,0.95,0.958,0.967,0.975,0.983,0.994,0.998],
[0.039,0.044,0.102,0.169,0.179,0.226,0.354,0.389,0.391,0.455,0.482,0.49,0.498,0.505,0.527,0.563,0.569,0.58,0.62,0.84,0.887,0.893,0.956,0.978,0.982],
[0.007,0.039,0.058,0.067,0.127,0.139,0.376,0.385,0.433,0.468,0.488,0.521,0.525,0.533,0.551,0.578,0.592,0.6,0.657,0.661,0.681,0.858,0.86,0.917,0.974],
[0.015,0.4,0.421,0.432,0.467,0.479,0.489,0.517,0.535,0.543,0.559,0.572,0.574,0.577,0.592,0.619,0.909,0.976],
[0.017,0.02,0.055,0.065,0.073,0.378,0.457,0.467,0.476,0.596,0.616,0.887,0.971,0.974],
[0.057,0.098,0.1,0.127,0.393,0.44,0.442,0.531,0.556,0.58,0.592,0.895,0.917],
[0.044,0.107,0.246,0.338,0.398,0.461,0.48,0.559,0.597,0.6,0.879,0.911],
[0.077,0.316,0.428,0.496,0.535,0.779,0.866,0.911],
[0.333,0.478,0.488,0.541,0.58,0.608,0.663,0.92,0.93,0.942,0.976,0.994,1.0]];

// ---------- tick labels ----------
const xTickVals = [0,0.2,0.4,0.6,0.8,1];
const xTickText = ['0.0','0.2','0.4','0.6','0.8','1.0'];
const gaussTickVals = [-5,0,5], gaussTickText = ['\u22125','0','5'];
const studTickVals = [-10,-8,-6,-4,-2,0,2], studTickText = ['\u221210','','\u22126','','\u22122','','2'];
const bernTickVals = [0,0.2,0.4,0.6,0.8,1], bernTickText = ['0.0','','0.4','','0.8',''];
const poisTickVals = [0,5,10,15], poisTickText = ['0','5','10','15'];

// ---------- build ----------
const FONT = 'Liberation Sans, Arial, Helvetica, sans-serif';
const COL = {data:'#87CEEB', truth:'#E8212A', mfvb:'#F7931E', mcmc:'#3A4FA3'};
const W = 1130, H = 644;
const traces = [];
function axn(i){ return i===1 ? ['x','y'] : ['x'+i,'y'+i]; }
function addData(x, y, i){
  const a = axn(i);
  traces.push({type:'scatter', mode:'markers', x:x, y:y, xaxis:a[0], yaxis:a[1], cliponaxis:false,
    marker:{symbol:'circle-open', size:4.6, color:COL.data, line:{width:1, color:COL.data}},
    showlegend:false, hoverinfo:'skip'});
}
function addLine(y, i, color, width, dash){
  const a = axn(i);
  traces.push({type:'scatter', mode:'lines', x:curveX, y:y, xaxis:a[0], yaxis:a[1],
    line:{color:color, width:width, dash:dash, shape:'spline', smoothing:0.9},
    showlegend:false, hoverinfo:'skip'});
}
function addFits(i, tr, mf, mfLo, mfHi, mc, mcLo, mcHi, trW){
  addLine(mfLo, i, COL.mfvb, 3, '11px,6px');
  addLine(mfHi, i, COL.mfvb, 3, '11px,6px');
  addLine(mf,   i, COL.mfvb, 3.2, 'solid');
  addLine(mcLo, i, COL.mcmc, 2, '7px,8px');
  addLine(mcHi, i, COL.mcmc, 2, '7px,8px');
  addLine(mc,   i, COL.mcmc, 2, 'solid');
  addLine(tr,   i, COL.truth, trW, 'solid');
}
addData(predictor, gaussResp, 1);
addFits(1, gaussTrue, gaussMfvb, gaussMfvbLo, gaussMfvbHi, gaussMcmc, gaussMcmcLo, gaussMcmcHi, 2.6);
addData(predictor, studResp, 2);
addFits(2, studTrue, studMfvb, studMfvbLo, studMfvbHi, studMcmc, studMcmcLo, studMcmcHi, 2.6);
addData(bernOnesX.concat(bernZerosX), bernOnesX.map(()=>1).concat(bernZerosX.map(()=>0)), 3);
addFits(3, bernTrue, bernMfvb, bernMfvbLo, bernMfvbHi, bernMcmc, bernMcmcLo, bernMcmcHi, 2);
addData([].concat(...poisByCount), poisByCount.flatMap((r,k)=>r.map(()=>k)), 4);
addFits(4, poisTrue, poisMfvb, poisMfvbLo, poisMfvbHi, poisMcmc, poisMcmcLo, poisMcmcHi, 2.6);

const xDomL = [70.2/W, 558.1/W], xDomR = [637.5/W, 1127.5/W];
const yDomT = [1-260/H, 1-31/H], yDomB = [1-584.3/H, 1-355/H];
const XR = [-0.0508, 1.0508];
function axis(extra){
  return Object.assign({showline:true, linecolor:'#9a9a9a', linewidth:1.5, ticks:'outside', ticklen:8,
    tickwidth:1.5, tickcolor:'#333', showgrid:false, zeroline:false, fixedrange:true,
    tickfont:{family:FONT, size:22, color:'#000'}, tickmode:'array'}, extra);
}
const XS = -8, YS = -4;
const layout = {
  width:W, height:H, margin:{l:0,r:0,t:0,b:0}, paper_bgcolor:'#fff', plot_bgcolor:'#fff', showlegend:false,
  font:{family:FONT, color:'#000'},
  xaxis: axis({domain:xDomL, anchor:'y',  range:XR, tickvals:xTickVals, ticktext:xTickText, ticklabelstandoff:XS}),
  yaxis: axis({domain:yDomT, anchor:'x',  range:[-9.16,9.61], tickvals:gaussTickVals, ticktext:gaussTickText, tickangle:-90, ticklabelstandoff:YS}),
  xaxis2:axis({domain:xDomR, anchor:'y2', range:XR, tickvals:xTickVals, ticktext:xTickText, ticklabelstandoff:XS}),
  yaxis2:axis({domain:yDomT, anchor:'x2', range:[-10.04,3.09], tickvals:studTickVals, ticktext:studTickText, tickangle:-90, ticklabelstandoff:YS}),
  xaxis3:axis({domain:xDomL, anchor:'y3', range:XR, tickvals:xTickVals, ticktext:xTickText, ticklabelstandoff:XS}),
  yaxis3:axis({domain:yDomB, anchor:'x3', range:[-0.04,1.04], tickvals:bernTickVals, ticktext:bernTickText, tickangle:-90, ticklabelstandoff:YS}),
  xaxis4:axis({domain:xDomR, anchor:'y4', range:XR, tickvals:xTickVals, ticktext:xTickText, ticklabelstandoff:XS}),
  yaxis4:axis({domain:yDomB, anchor:'x4', range:[-0.62,17.2], tickvals:poisTickVals, ticktext:poisTickText, tickangle:-90, ticklabelstandoff:YS}),
  shapes:[], annotations:[]
};
// dark axis segments between first and last tick (R style)
const ySpan = [[-5,5],[-10,2],[0,1],[0,15]];
for (let i=1;i<=4;i++){
  const a = axn(i);
  layout.shapes.push({type:'line', xref:a[0], yref:a[1]+' domain', x0:0, x1:1, y0:0, y1:0, line:{color:'#333', width:1.5}});
  layout.shapes.push({type:'line', xref:a[0]+' domain', yref:a[1], x0:0, x1:0, y0:ySpan[i-1][0], y1:ySpan[i-1][1], line:{color:'#333', width:1.5}});
}
function ann(text, px, py, opts){
  layout.annotations.push(Object.assign({text:text, x:px/W, y:1-py/H, xref:'paper', yref:'paper', showarrow:false,
    xanchor:'center', yanchor:'middle', font:{family:FONT, size:22, color:'#000'}}, opts||{}));
}
// panel titles
ann('<b>Gaussian response</b>', 314, 18);
ann('<b>Student\u2212t response</b>', 882.5, 18);
ann('<b>Bernoulli response</b>', 314, 342);
ann('<b>Poisson response</b>', 882.5, 342);
// axis titles
ann('Function estimate', 20, 145.5, {textangle:-90});
ann('Function estimate', 20, 469.6, {textangle:-90});
ann('Continuous predictor', 314, 628);
ann('Continuous predictor', 882.5, 628);
// legend (Bernoulli panel)
layout.shapes.push({type:'circle', xref:'paper', yref:'paper', x0:378/W, x1:390/W, y0:1-418/H, y1:1-406/H,
  fillcolor:COL.data, line:{color:COL.data, width:0}});
const legRows = [['True',COL.truth,439],['MFVB',COL.mfvb,466],['MCMC',COL.mcmc,492]];
legRows.forEach(r=>{
  layout.shapes.push({type:'line', xref:'paper', yref:'paper', x0:363/W, x1:406/W, y0:1-r[2]/H, y1:1-r[2]/H, line:{color:r[1], width:3}});
});
ann('Data', 425, 412, {xanchor:'left'});
legRows.forEach(r=>ann(r[0], 425, r[2], {xanchor:'left'}));

Plotly.newPlot('chart', traces, layout, {staticPlot:true, displayModeBar:false});
</script>
</body></html>
